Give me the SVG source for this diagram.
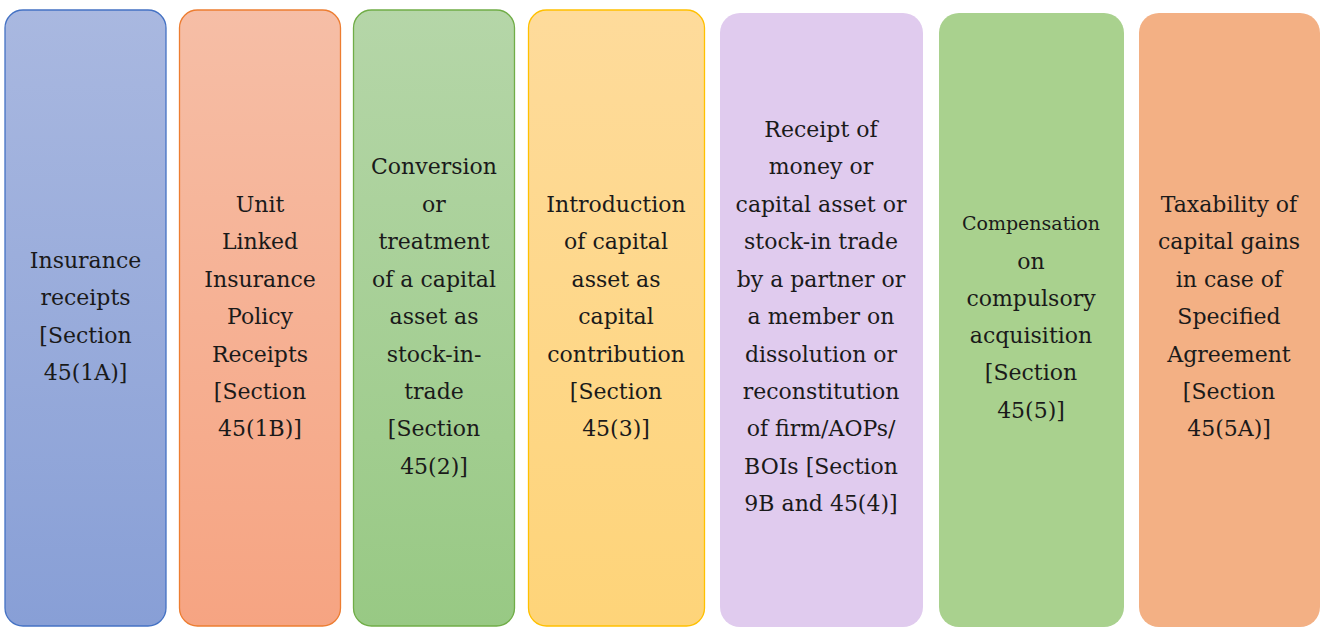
<svg xmlns="http://www.w3.org/2000/svg" width="1320" height="627" viewBox="0 0 1320 627">
<defs>
<linearGradient id="g1" x1="0" y1="0" x2="0" y2="1"><stop offset="0" stop-color="#A9B8E0"/><stop offset="1" stop-color="#889FD6"/></linearGradient>
<linearGradient id="g2" x1="0" y1="0" x2="0" y2="1"><stop offset="0" stop-color="#F6BEA6"/><stop offset="1" stop-color="#F6A482"/></linearGradient>
<linearGradient id="g3" x1="0" y1="0" x2="0" y2="1"><stop offset="0" stop-color="#B5D6A8"/><stop offset="1" stop-color="#98C984"/></linearGradient>
<linearGradient id="g4" x1="0" y1="0" x2="0" y2="1"><stop offset="0" stop-color="#FEDB9B"/><stop offset="1" stop-color="#FED479"/></linearGradient>
<style>
text{font-family:"DejaVu Serif","Liberation Serif",serif;font-size:22px;fill:#1a1a1a;text-anchor:middle}
.s{font-size:19px}
</style>
</defs>
<g id="node1"><rect x="5" y="10" width="161" height="616" rx="18" fill="url(#g1)" stroke="#4472C4" stroke-width="1.3"/>
<text x="85.5"><tspan x="85.5" y="268">Insurance</tspan><tspan x="85.5" y="305">receipts</tspan><tspan x="85.5" y="343">[Section</tspan><tspan x="85.5" y="380">45(1A)]</tspan></text></g>
<g id="node2"><rect x="179.5" y="10" width="161" height="616" rx="18" fill="url(#g2)" stroke="#ED7D31" stroke-width="1.3"/>
<text><tspan x="260" y="212">Unit</tspan><tspan x="260" y="249">Linked</tspan><tspan x="260" y="287">Insurance</tspan><tspan x="260" y="324">Policy</tspan><tspan x="260" y="362">Receipts</tspan><tspan x="260" y="399">[Section</tspan><tspan x="260" y="436">45(1B)]</tspan></text></g>
<g id="node3"><rect x="353.5" y="10" width="161" height="616" rx="18" fill="url(#g3)" stroke="#70AD47" stroke-width="1.3"/>
<text><tspan x="434" y="174">Conversion</tspan><tspan x="434" y="212">or</tspan><tspan x="434" y="249">treatment</tspan><tspan x="434" y="287">of a capital</tspan><tspan x="434" y="324">asset as</tspan><tspan x="434" y="362">stock-in-</tspan><tspan x="434" y="399">trade</tspan><tspan x="434" y="436">[Section</tspan><tspan x="434" y="474">45(2)]</tspan></text></g>
<g id="node4"><rect x="528.5" y="10" width="176" height="616" rx="18" fill="url(#g4)" stroke="#FFC000" stroke-width="1.3"/>
<text><tspan x="616" y="212">Introduction</tspan><tspan x="616" y="249">of capital</tspan><tspan x="616" y="287">asset as</tspan><tspan x="616" y="324">capital</tspan><tspan x="616" y="362">contribution</tspan><tspan x="616" y="399">[Section</tspan><tspan x="616" y="436">45(3)]</tspan></text></g>
<g id="node5"><rect x="720" y="13" width="203" height="614" rx="20" fill="#E0CBEE"/>
<text><tspan x="821" y="137">Receipt of</tspan><tspan x="821" y="174">money or</tspan><tspan x="821" y="212">capital asset or</tspan><tspan x="821" y="249">stock-in trade</tspan><tspan x="821" y="287">by a partner or</tspan><tspan x="821" y="324">a member on</tspan><tspan x="821" y="362">dissolution or</tspan><tspan x="821" y="399">reconstitution</tspan><tspan x="821" y="436">of firm/AOPs/</tspan><tspan x="821" y="474">BOIs [Section</tspan><tspan x="821" y="511">9B and 45(4)]</tspan></text></g>
<g id="node6"><rect x="939" y="13" width="185" height="614" rx="20" fill="#A9D18E"/>
<text><tspan class="s" x="1031" y="230">Compensation</tspan><tspan x="1031" y="269">on</tspan><tspan x="1031" y="306">compulsory</tspan><tspan x="1031" y="343">acquisition</tspan><tspan x="1031" y="380">[Section</tspan><tspan x="1031" y="418">45(5)]</tspan></text></g>
<g id="node7"><rect x="1139" y="13" width="181" height="614" rx="20" fill="#F3B084"/>
<text><tspan x="1229" y="212">Taxability of</tspan><tspan x="1229" y="249">capital gains</tspan><tspan x="1229" y="287">in case of</tspan><tspan x="1229" y="324">Specified</tspan><tspan x="1229" y="362">Agreement</tspan><tspan x="1229" y="399">[Section</tspan><tspan x="1229" y="436">45(5A)]</tspan></text></g>
<g id="connectors"></g>
</svg>
